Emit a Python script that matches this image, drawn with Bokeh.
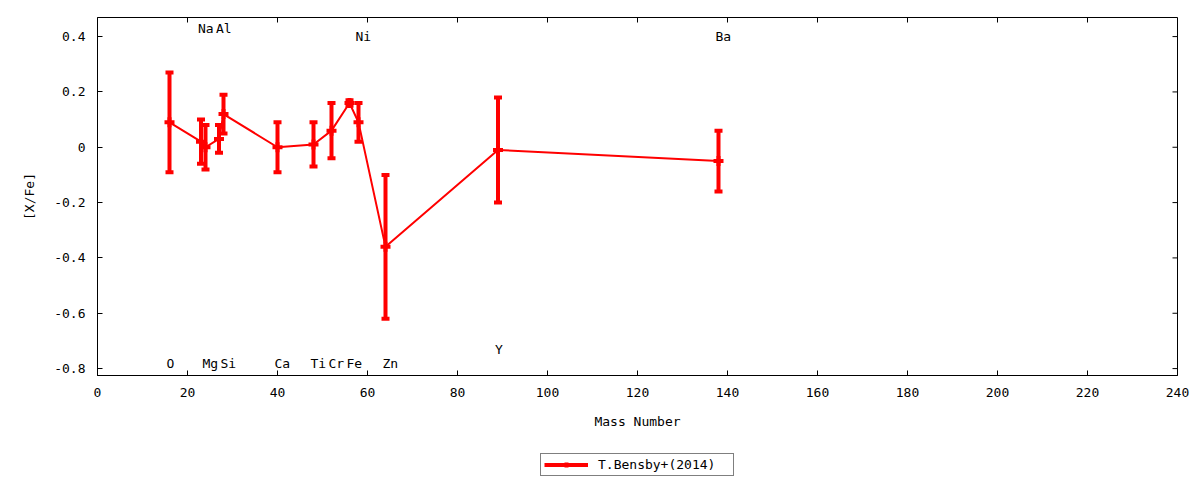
import numpy as np
from bokeh.plotting import figure
from bokeh.layouts import column
from bokeh.models import (ColumnDataSource, Range1d, FixedTicker,
                          Whisker, TeeHead, Legend, LegendItem, CustomJSTickFormatter)
from bokeh.embed import file_html
from bokeh.resources import INLINE

# datos: [X/Fe] frente al numero masico (T.Bensby+ 2014)
elements = ["O", "Na", "Mg", "Al", "Si", "Ca", "Ti", "Cr", "Fe", "Ni", "Zn", "Y", "Ba"]
mass = [16, 23, 24, 27, 28, 40, 48, 52, 56, 58, 64, 89, 138]
xfe = [0.09, 0.02, 0.00, 0.03, 0.12, 0.00, 0.01, 0.06, 0.16, 0.09, -0.36, -0.01, -0.05]
err = [0.18, 0.08, 0.08, 0.05, 0.07, 0.09, 0.08, 0.10, 0.01, 0.07, 0.26, 0.19, 0.11]

# posicion vertical de las etiquetas de elementos
label_y = [-0.78, 0.43, -0.78, 0.43, -0.78, -0.78, -0.78, -0.78, -0.78, 0.40, -0.78, -0.73, 0.40]

x_ticks = list(range(0, 241, 20))
y_ticks = [-0.8, -0.6, -0.4, -0.2, 0, 0.2, 0.4]
x_min, x_max = 0, 240
y_min, y_max = -0.825, 0.469

FONT = "DejaVu Sans Mono"
RED = "#ff0000"

source = ColumnDataSource(dict(
    x=mass, y=xfe,
    lower=np.array(xfe) - np.array(err),
    upper=np.array(xfe) + np.array(err),
))
labels = ColumnDataSource(dict(x=mass, y=label_y, text=elements))

p = figure(width=1200, height=440, x_range=Range1d(x_min, x_max), y_range=Range1d(y_min, y_max),
           output_backend="svg", toolbar_location=None,
           min_border_left=97, min_border_right=23, min_border_top=17, min_border_bottom=65)
p.grid.visible = False
p.outline_line_color = "black"
p.outline_line_width = 1

for ax in p.axis:
    ax.major_tick_in = 5
    ax.major_tick_out = 0
    ax.minor_tick_in = 0
    ax.minor_tick_out = 0
    ax.major_label_text_font = FONT
    ax.major_label_text_font_size = "13px"
    ax.major_label_text_color = "black"
    ax.axis_label_text_font = FONT
    ax.axis_label_text_font_size = "13px"
    ax.axis_label_text_font_style = "normal"
    ax.axis_label_text_color = "black"
    ax.axis_line_color = "black"

p.xaxis.ticker = FixedTicker(ticks=x_ticks)
p.yaxis.ticker = FixedTicker(ticks=y_ticks)
p.yaxis.formatter = CustomJSTickFormatter(code="return Math.abs(tick) < 1e-9 ? '0' : tick.toFixed(1);")
p.xaxis.major_label_standoff = 12
p.yaxis.major_label_standoff = 12
p.xaxis.axis_label = "Mass Number"
p.yaxis.axis_label = "[X/Fe]"
p.xaxis.axis_label_standoff = 14
p.yaxis.axis_label_standoff = 14

# marcas espejo arriba y a la derecha (hacia dentro)
p.ray(x=x_ticks, y=[y_max] * len(x_ticks), length=5, length_units="screen",
      angle=-np.pi / 2, line_color="black", line_width=1)
p.ray(x=[x_max] * len(y_ticks), y=y_ticks, length=5, length_units="screen",
      angle=np.pi, line_color="black", line_width=1)

# linea y barras de error
p.line("x", "y", source=source, line_color=RED, line_width=2)
whisker = Whisker(base="x", lower="lower", upper="upper", source=source,
                  line_color=RED, line_width=4,
                  upper_head=TeeHead(size=8, line_color=RED, line_width=4),
                  lower_head=TeeHead(size=8, line_color=RED, line_width=4))
p.add_layout(whisker)
p.scatter("x", "y", source=source, marker="cross", size=10, line_color=RED, line_width=4)

# etiquetas de elementos
p.text("x", "y", text="text", source=labels, text_font={"value": FONT},
       text_font_size="13px", text_align="left", text_baseline="middle",
       x_offset=-3, text_color="black")

# leyenda en una figura aparte, debajo (el marco se alinea con el de arriba)
lf = figure(width=1200, height=40, x_range=Range1d(0, 1), y_range=Range1d(0, 1),
            output_backend="svg", toolbar_location=None,
            min_border_left=0, min_border_right=0, min_border_top=0, min_border_bottom=0)
lf.axis.visible = False
lf.grid.visible = False
lf.outline_line_color = None
# puntos fuera de rango: solo sirven para dibujar el simbolo de la leyenda
dummy = ColumnDataSource(dict(x=[5, 6], y=[5, 5]))
lg_line = lf.line("x", "y", source=dummy, line_color=RED, line_width=4)
lg_mark = lf.scatter("x", "y", source=dummy, marker="cross", size=10,
                     line_color=RED, line_width=4)
legend = Legend(items=[LegendItem(label="T.Bensby+(2014)", renderers=[lg_line, lg_mark])],
                location=(443, 4), margin=0, padding=3, spacing=0,
                glyph_width=44, glyph_height=13, label_height=13, label_width=132,
                label_standoff=10, label_text_font=FONT, label_text_font_size="13px",
                label_text_color="black",
                border_line_color="black", border_line_width=1,
                background_fill_color="white", background_fill_alpha=1)
lf.add_layout(legend)

lay = column(p, lf, spacing=0)
open("out.html", "w").write(file_html(lay, INLINE))
